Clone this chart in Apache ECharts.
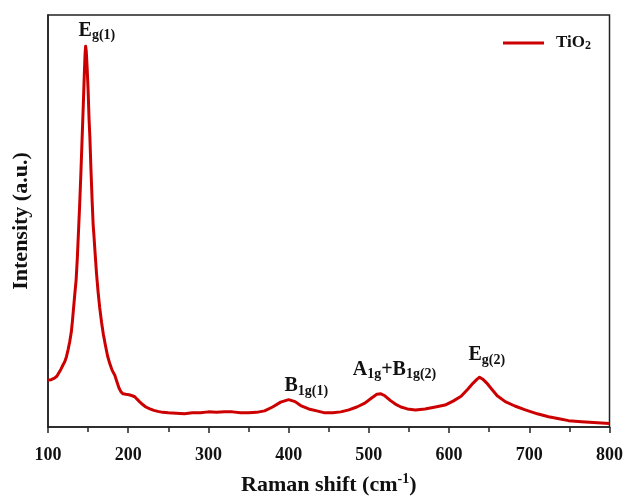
<!DOCTYPE html>
<html>
<head>
<meta charset="utf-8">
<script src="https://cdn.jsdelivr.net/npm/echarts@6/dist/echarts.min.js"></script>
<style>html,body{margin:0;padding:0;background:#fff}#c{width:626px;height:501px}</style>
</head>
<body>
<div id="c"></div>
<script>
// Raman shift (cm^-1)
const shift = [100,104,108,111,113,116,119,121,123,125,127,129,130.5,132,133.5,135,136.5,138,139.5,141,142.5,144,145.3,146.2,146.9,147.7,148.8,150,151.2,152.2,153.5,155,156.3,157.2,158.8,160.5,162.5,164.5,166.8,169,171.5,174.2,177,180,183.3,186,188.5,191,193.6,197,201,205,208.2,211,214,218,222,227,232,237,243,250,260,270,280,290,300,310,320,330,340,350,360,370,380,390,400,408,415,425,435,445,455,465,475,485,495,503,510,515,520,527,533,540,548,558,570,583,595,605,615,623,630,635,638,642,647,653,660,670,682,695,710,724,737,749,765,780,790,800];
// Intensity (a.u.)
const intensity = [48,48.5,50,52,54,59,64,67,72,79,87,97,109,123,137,150,172,200,228,260,295,330,362,382,390,385,368,345,315,297,265,232,207,197,177,157,138,122,107,95,84,73,65,58,53,46,40,36,34,33.5,33,32,31,28.5,26,23,20.5,18.5,17,16,15,14.5,14,13.5,14.5,14.5,15.5,15,15.5,15.5,14.5,14.5,15,16.5,20.5,25.5,28,26,22,18.5,16.5,14.5,14.5,15.5,17.5,20.5,24.5,29.5,33.5,34,32,27,23.5,20.5,18.5,17.5,18.5,20.5,22.5,26.5,31.5,38.5,45,49,51,49,45,39,32,26,21.5,17.5,13.5,10.5,8.5,6.5,5.5,4.5,4,3.5];
const xTicks = [100,200,300,400,500,600,700,800];
const seriesName = 'TiO2';
const peakNames = ['Eg(1)','B1g(1)','A1g+B1g(2)','Eg(2)'];

const font = 'Liberation Serif';
const col = '#cc0000';
const dark = '#222';
const txt = '#111';

const chart = echarts.init(document.getElementById('c'), null, {renderer:'canvas'});
const big = {fontFamily:font, fontWeight:'bold', fontSize:20, color:txt, lineHeight:22, verticalAlign:'top'};
const sub = {fontFamily:font, fontWeight:'bold', fontSize:14, color:txt, lineHeight:14, verticalAlign:'bottom', padding:[13,0,0,0]};
const labelTexts = ['{b|E}{s|g(1)}','{b|B}{s|1g(1)}','{b|A}{s|1g}{b|+B}{s|1g(2)}','{b|E}{s|g(2)}'];
const labelCoords = [[161,405],[422,41],[532,57.5],[647,72.5]];

chart.setOption({
  animation:false,
  grid:{left:48,right:15,top:15,bottom:64,show:true,borderColor:dark,borderWidth:1.5,backgroundColor:'transparent'},
  legend:{
    left:503, top:29, padding:0, itemWidth:41, itemHeight:3, icon:'rect', itemGap:10,
    data:[seriesName],
    formatter:()=> '{t|TiO}{s|2}',
    textStyle:{rich:{
      t:{fontFamily:font,fontWeight:'bold',fontSize:17,color:txt,lineHeight:18,verticalAlign:'top',padding:[0,0,0,7]},
      s:{fontFamily:font,fontWeight:'bold',fontSize:12,color:txt,lineHeight:12,verticalAlign:'bottom',padding:[11,0,0,0]}
    }}
  },
  xAxis:{
    type:'value', min:100, max:800, interval:100,
    name:'{t|Raman shift (cm}{s|-1}{t|)}', nameLocation:'middle', nameGap:45,
    nameTextStyle:{rich:{
      t:{fontFamily:font,fontWeight:'bold',fontSize:22,color:txt,lineHeight:24,verticalAlign:'bottom'},
      s:{fontFamily:font,fontWeight:'bold',fontSize:14,color:txt,lineHeight:14,verticalAlign:'top'}
    }},
    axisLine:{show:true,onZero:false,lineStyle:{color:dark,width:1.5}},
    axisTick:{show:true,inside:false,length:6,lineStyle:{color:dark,width:1.5}},
    minorTick:{show:true,splitNumber:2,length:5,lineStyle:{color:dark,width:1.5}},
    splitLine:{show:false},
    axisLabel:{margin:19,fontFamily:font,fontWeight:'bold',fontSize:18,color:txt,
      formatter:v=> xTicks.includes(v)? String(v):''}
  },
  yAxis:{
    type:'value', min:0, max:422,
    name:'Intensity (a.u.)', nameLocation:'middle', nameGap:16,
    nameTextStyle:{fontFamily:font,fontWeight:'bold',fontSize:22,color:txt},
    axisLine:{show:true,lineStyle:{color:dark,width:1.5}},
    axisTick:{show:false}, axisLabel:{show:false}, splitLine:{show:false}
  },
  series:[{
    name:seriesName, type:'line', showSymbol:false, smooth:false,
    data:shift.map((x,i)=>[x,intensity[i]]),
    lineStyle:{color:col,width:3,join:'round'}, itemStyle:{color:col},
    markPoint:{
      symbol:'circle', symbolSize:0, silent:true,
      label:{show:true, position:'inside', rich:{b:big,s:sub}},
      data:labelCoords.map((c,i)=>({name:peakNames[i], coord:c, value:0,
        label:{formatter:labelTexts[i]}}))
    }
  }]
});
</script>
</body>
</html>
